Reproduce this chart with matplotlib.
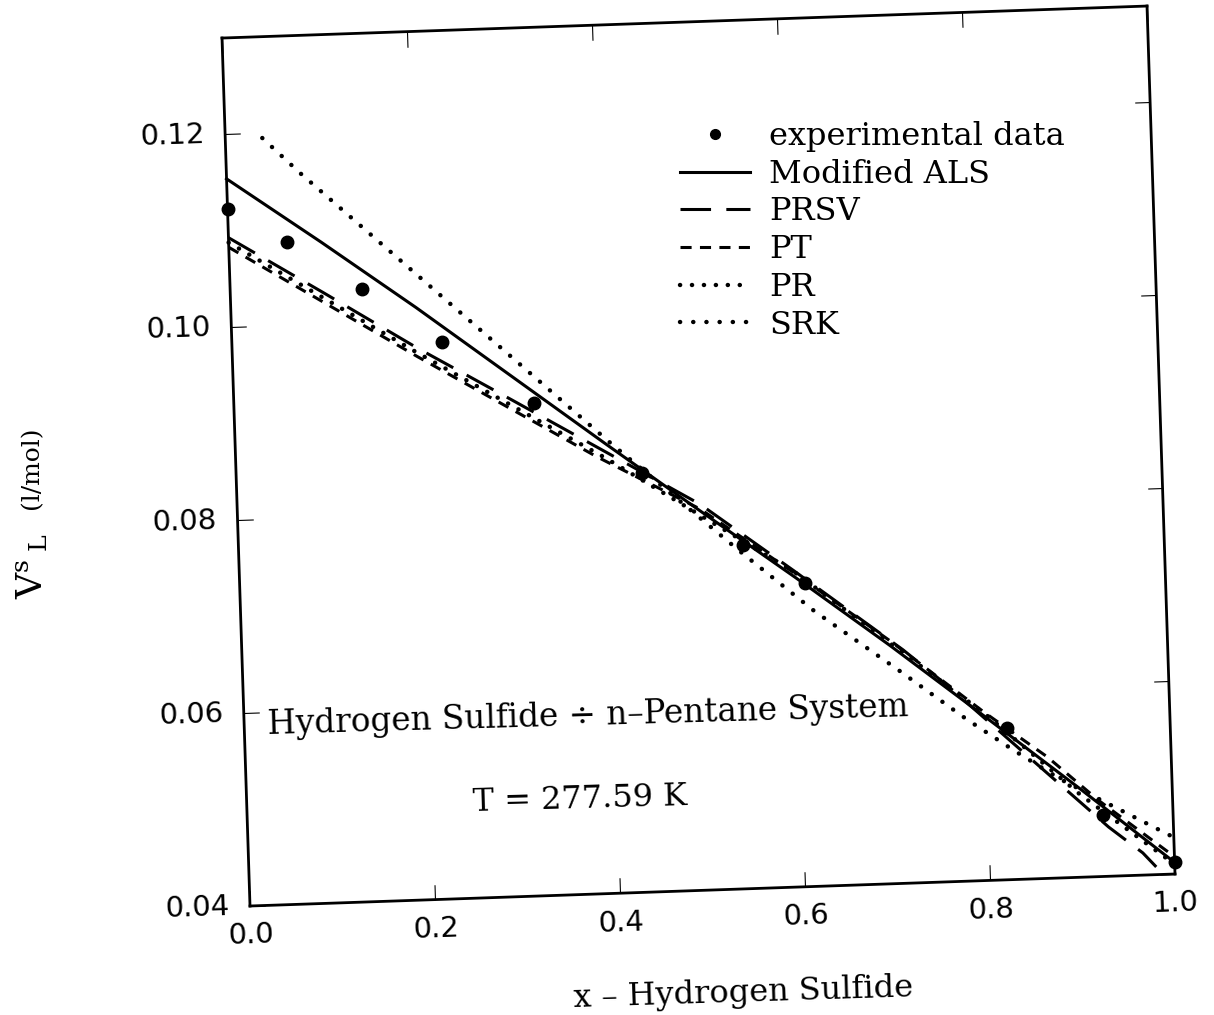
import matplotlib
matplotlib.use("Agg")
import matplotlib.pyplot as plt
from matplotlib.lines import Line2D
from matplotlib.transforms import Affine2D
import mpl_toolkits.axisartist.floating_axes as floating_axes
from mpl_toolkits.axisartist.grid_finder import FixedLocator, DictFormatter

plt.rcParams['lines.scale_dashes'] = False
plt.rcParams['mathtext.fontset'] = 'dejavuserif'

# saturated liquid volume, H2S + n-pentane, T = 277.59 K
x_exp = [0.0, 0.063, 0.142, 0.227, 0.324, 0.438, 0.545, 0.611, 0.824, 0.924, 1.0]
v_exp = [0.1123, 0.1086, 0.1035, 0.0977, 0.0911, 0.0834, 0.0756, 0.0715, 0.0557, 0.0464, 0.0412]

x_als = [0.0, 0.1, 0.2, 0.3, 0.4, 0.5, 0.6, 0.7, 0.8, 0.9, 1.0]
v_als = [0.1154, 0.1085, 0.1014, 0.0940, 0.0866, 0.0793, 0.0721, 0.0647, 0.0570, 0.0492, 0.0412]

x_prsv = [0.0, 0.1, 0.2, 0.3, 0.38, 0.5, 0.6, 0.714, 0.76, 0.85, 0.93, 0.966, 0.98]
v_prsv = [0.1093, 0.1033, 0.0972, 0.0915, 0.0869, 0.0800, 0.0727, 0.0642, 0.0604, 0.0523, 0.0451, 0.0423, 0.0408]

x_pt = [0.0, 0.1, 0.2, 0.3, 0.39, 0.5, 0.6, 0.7, 0.8, 0.866, 0.92, 1.0]
v_pt = [0.1083, 0.1023, 0.0963, 0.0905, 0.0853, 0.0795, 0.0725, 0.0652, 0.0574, 0.0526, 0.0479, 0.0418]

x_pr = [0.0, 0.2, 0.4, 0.6, 0.8, 0.9, 1.0]
v_pr = [0.1088, 0.0967, 0.0851, 0.0726, 0.0573, 0.0486, 0.0410]

x_srk = [0.04, 0.08, 0.23, 0.405, 0.54, 0.62, 0.71, 0.78, 0.83, 0.88, 0.94, 1.0]
v_srk = [0.1195, 0.1157, 0.1023, 0.0867, 0.0751, 0.0685, 0.0620, 0.0568, 0.0534, 0.0502, 0.0470, 0.0438]

x_ticks = [0.0, 0.2, 0.4, 0.6, 0.8, 1.0]
v_ticks = [0.04, 0.06, 0.08, 0.10, 0.12]

W, H = 1214, 1015
fig = plt.figure(figsize=(W / 100, H / 100), dpi=100)

# the sheet sits a little crooked: place (x, V) on a tilted frame in pixels
tr = Affine2D.from_values(925, 32, -311, 9644, 262.44, -276.76)

grid_helper = floating_axes.GridHelperCurveLinear(
    tr, extremes=(0.0, 1.0, 0.04, 0.13),
    grid_locator1=FixedLocator(x_ticks),
    grid_locator2=FixedLocator(v_ticks),
    tick_formatter1=DictFormatter({t: f"{t:.1f}" for t in x_ticks}),
    tick_formatter2=DictFormatter({t: f"{t:.2f}" for t in v_ticks}),
)
ax = fig.add_axes([0, 0, 1, 1], axes_class=floating_axes.FloatingAxes,
                  grid_helper=grid_helper)
ax.set_aspect('auto')
ax.set_xlim(0, W)
ax.set_ylim(0, H)

for side in ["bottom", "top", "left", "right"]:
    ax.axis[side].line.set_linewidth(2.0)
    ax.axis[side].major_ticks.set_ticksize(11)
    ax.axis[side].major_ticks.set_linewidth(1.8)
for side in ["bottom", "left"]:
    lab = ax.axis[side].major_ticklabels
    lab.set_fontsize(21)
    lab.set_fontfamily("DejaVu Sans")
ax.axis["left"].major_ticklabels.set_pad(15)
ax.axis["bottom"].major_ticklabels.set_pad(12)

aux = ax.get_aux_axes(tr)

serif = "DejaVu Serif"
h_exp, = aux.plot(x_exp, v_exp, 'o', color='black', ms=9, clip_on=False)
h_als, = aux.plot(x_als, v_als, '-', color='black', lw=2.2)
h_prsv, = aux.plot(x_prsv, v_prsv, color='black', lw=2.2, ls=(0, (22, 11)))
h_pt, = aux.plot(x_pt, v_pt, color='black', lw=2.2, ls=(0, (8, 6)))
h_pr, = aux.plot(x_pr, v_pr, color='black', lw=3.2, ls=(0, (0.1, 8.5)),
                 dash_capstyle='round')
h_srk, = aux.plot(x_srk, v_srk, color='black', lw=3.2, ls=(0, (0.1, 9.4)),
                  dash_capstyle='round')

leg_exp = Line2D([], [], ls='', marker='o', ms=7, color='black')
fig.legend([leg_exp, h_als, h_prsv, h_pt, h_pr, h_srk],
           ["experimental data", "Modified ALS", "PRSV", "PT", "PR", "SRK"],
           loc='upper left', bbox_to_anchor=(680 / W, 1 - 121 / H),
           frameon=False, borderpad=0, borderaxespad=0,
           handlelength=2.2, handletextpad=0.6, labelspacing=0.21,
           prop={'family': serif, 'size': 23})

aux.text(0.372, 0.0585, "Hydrogen Sulfide \u00f7 n\u2013Pentane System",
         family=serif, fontsize=23.5, ha='center', va='center',
         rotation=1.6, rotation_mode='anchor')
aux.text(0.36, 0.0498, "T = 277.59 K", family=serif, fontsize=23,
         ha='center', va='center', rotation=1.6, rotation_mode='anchor')
aux.text(0.53, 0.0292, "x \u2013 Hydrogen Sulfide", family=serif, fontsize=23,
         ha='center', va='center', rotation=1.8, rotation_mode='anchor')

fig.text(32 / W, 1 - 566 / H, r'$\mathrm{V}^{\mathrm{s}}{}_{\;\mathrm{L}}$',
         rotation=90, fontsize=26, ha='center', va='center')
fig.text(32 / W, 1 - 468 / H, "(l/mol)", family=serif, fontsize=18,
         rotation=90, ha='center', va='center')

fig.savefig("out.png", dpi=100)
